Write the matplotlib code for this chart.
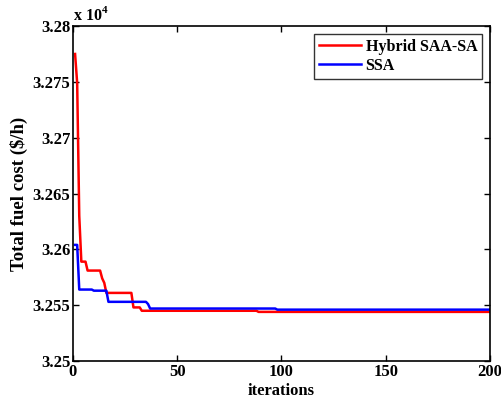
import numpy as np
import matplotlib
matplotlib.use("Agg")
import matplotlib.pyplot as plt
from matplotlib.ticker import FuncFormatter

# change points (iteration where a new value starts) and values
hyb_iters = [1, 2, 3, 4, 7, 14, 15, 16, 29, 33, 89]
hyb_vals = [32775, 32749, 32630, 32589, 32581, 32574, 32570, 32561, 32548, 32545, 32544]
ssa_iters = [1, 3, 10, 17, 36, 37, 98]
ssa_vals = [32604, 32564, 32563, 32553, 32551, 32547, 32546]
n_iter = 200


def expand(starts, vals, n):
    ends = starts[1:] + [n + 1]
    counts = np.array(ends) - np.array(starts)
    return np.repeat(vals, counts)


it = np.arange(1, n_iter + 1)
hybrid = expand(hyb_iters, hyb_vals, n_iter)
ssa = expand(ssa_iters, ssa_vals, n_iter)

plt.rcParams['font.family'] = ['Liberation Serif', 'DejaVu Serif']
plt.rcParams['font.weight'] = 'bold'
plt.rcParams['mathtext.fontset'] = 'custom'
plt.rcParams['mathtext.rm'] = 'Liberation Serif:bold'
plt.rcParams['mathtext.bf'] = 'Liberation Serif:bold'

fig = plt.figure(figsize=(5.01, 4.07), dpi=100)
ax = fig.add_axes([0.1457, 0.113, 0.8323, 0.823])

ax.plot(it, hybrid, color='red', lw=1.8, label='Hybrid SAA-SA')
ax.plot(it, ssa, color='blue', lw=1.8, label='SSA')

ax.set_xlim(0, 200)
ax.set_ylim(32500, 32800)
ax.set_xticks([0, 50, 100, 150, 200])
ax.set_yticks(np.arange(32500, 32801, 50))
ax.yaxis.set_major_formatter(FuncFormatter(lambda v, p: '%g' % (v / 1e4)))
ax.tick_params(direction='in', top=True, right=True, length=4, width=1,
               labelsize=12, pad=2)
for lab in ax.get_xticklabels() + ax.get_yticklabels():
    lab.set_fontweight('bold')
for s in ax.spines.values():
    s.set_linewidth(1.2)

ax.set_xlabel('iterations', fontsize=12, fontweight='bold', labelpad=2)
ax.set_ylabel('Total fuel cost ($/h)', fontsize=13.5, fontweight='bold', labelpad=3)
ax.text(0, 1.006, r'x 10$^{4}$', transform=ax.transAxes, fontsize=11.5,
        fontweight='bold', ha='left', va='bottom')

leg = ax.legend(loc='upper right', fontsize=11.5, frameon=True, fancybox=False,
                edgecolor='black', handlelength=2.6, borderpad=0.3,
                labelspacing=0.2, handletextpad=0.3, borderaxespad=0.5)
leg.get_frame().set_linewidth(1.0)
for t in leg.get_texts():
    t.set_fontweight('bold')

fig.savefig('out.png', dpi=100)
